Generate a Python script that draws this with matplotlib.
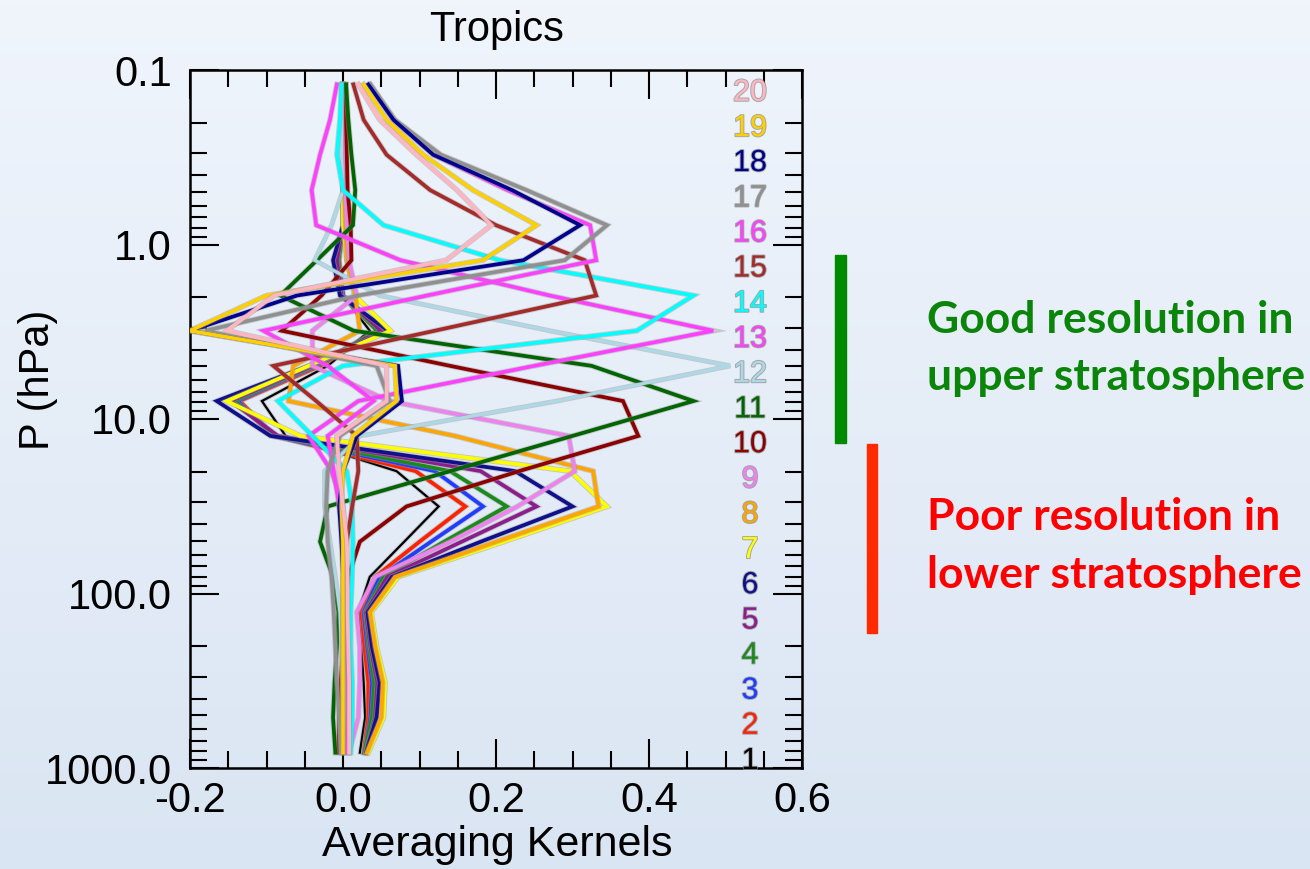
import numpy as np
import matplotlib
matplotlib.use("Agg")
import matplotlib.pyplot as plt
import matplotlib.patheffects as pe
from matplotlib.patches import Rectangle
from matplotlib.transforms import offset_copy
from matplotlib.ticker import FixedLocator, FixedFormatter, MultipleLocator, LogLocator, NullFormatter

# ---------------- data ----------------
P_LEVELS = [817, 513, 323, 203, 128, 80.3, 50.5, 31.7, 19.9, 12.5,
            7.89, 4.96, 3.12, 1.96, 1.23, 0.775, 0.488, 0.306, 0.193, 0.121]

K1 = [0.022, 0.029, 0.027, 0.024, 0.020, 0.035, 0.080, 0.125, 0.070, -0.075,
      -0.106, -0.020, 0.035, 0.000, -0.005, 0.000, 0.000, 0.000, 0.000, 0.000]
K2 = [0.027, 0.033, 0.033, 0.028, 0.024, 0.042, 0.100, 0.160, 0.095, -0.090,
      -0.135, -0.030, 0.045, 0.000, -0.005, 0.000, 0.000, 0.000, 0.000, 0.000]
K3 = [0.028, 0.036, 0.038, 0.032, 0.027, 0.048, 0.115, 0.183, 0.120, -0.092,
      -0.138, -0.035, 0.050, 0.000, -0.006, 0.000, 0.000, 0.000, 0.000, 0.000]
K4 = [0.028, 0.038, 0.041, 0.034, 0.029, 0.053, 0.132, 0.214, 0.140, -0.088,
      -0.142, -0.038, 0.045, -0.002, -0.006, 0.000, 0.000, 0.000, 0.000, 0.000]
K5 = [0.030, 0.042, 0.045, 0.036, 0.030, 0.058, 0.155, 0.253, 0.180, -0.085,
      -0.147, -0.040, 0.050, -0.002, -0.008, 0.000, 0.000, 0.000, 0.000, 0.000]
K6 = [0.030, 0.044, 0.048, 0.038, 0.032, 0.064, 0.180, 0.300, 0.225, -0.095,
      -0.165, -0.045, 0.059, -0.004, -0.013, 0.000, 0.000, 0.000, 0.000, 0.000]
K7 = [0.033, 0.053, 0.055, 0.044, 0.037, 0.072, 0.210, 0.345, 0.297, -0.056,
      -0.152, -0.045, 0.062, 0.015, 0.005, 0.000, 0.000, 0.000, 0.000, 0.000]
K8 = [0.031, 0.050, 0.052, 0.042, 0.035, 0.068, 0.200, 0.334, 0.327, 0.146,
      -0.071, -0.065, 0.022, 0.016, 0.005, 0.003, 0.002, 0.001, 0.000, 0.000]
K9 = [0.008, 0.020, 0.022, 0.022, 0.018, 0.042, 0.140, 0.228, 0.303, 0.295,
      0.060, -0.040, -0.040, 0.018, 0.008, 0.005, 0.003, 0.002, 0.001, 0.000]
K10 = [-0.006, -0.005, -0.003, 0.000, 0.003, 0.007, 0.022, 0.083, 0.230, 0.386,
       0.366, 0.140, -0.080, -0.028, 0.011, 0.010, 0.006, 0.005, 0.004, 0.004]
K11 = [-0.010, -0.013, -0.011, -0.008, -0.006, -0.013, -0.030, -0.020, 0.140, 0.300,
       0.458, 0.325, 0.014, -0.082, -0.034, 0.013, 0.016, 0.011, 0.007, 0.004]
K12 = [0.000, 0.000, -0.001, -0.002, -0.004, -0.010, -0.017, -0.024, -0.024, 0.022,
       0.280, 0.506, 0.270, 0.048, -0.037, -0.015, 0.000, -0.002, -0.002, -0.002]
K13 = [0.004, 0.006, 0.006, 0.005, 0.004, 0.004, 0.002, 0.000, -0.015, -0.045,
       0.020, 0.250, 0.484, 0.270, 0.075, -0.035, -0.041, -0.030, -0.017, -0.008]
K14 = [0.010, 0.012, 0.012, 0.010, 0.010, 0.012, 0.013, 0.012, 0.005, -0.040,
       -0.085, 0.000, 0.384, 0.458, 0.205, 0.053, 0.000, -0.008, -0.004, -0.002]
K15 = [0.000, 0.000, 0.000, 0.000, 0.000, 0.000, 0.005, 0.012, 0.020, 0.018,
       -0.035, -0.091, 0.120, 0.331, 0.316, 0.200, 0.114, 0.057, 0.027, 0.0135]
K16 = [0.005, 0.008, 0.008, 0.006, 0.005, 0.005, 0.003, -0.005, -0.012, -0.020,
       0.040, -0.020, -0.104, 0.110, 0.331, 0.323, 0.215, 0.118, 0.066, 0.035]
K17 = [-0.003, -0.005, -0.008, -0.010, -0.012, -0.015, -0.020, -0.022, -0.020, -0.004,
       0.061, 0.044, -0.180, 0.020, 0.290, 0.345, 0.240, 0.128, 0.068, 0.036]
K18 = [0.000, 0.000, 0.000, 0.000, 0.000, 0.000, -0.002, -0.005, 0.000, 0.018,
       0.077, 0.072, -0.200, -0.060, 0.236, 0.310, 0.221, 0.118, 0.066, 0.033]
K19 = [0.000, 0.000, 0.000, 0.000, 0.000, 0.000, 0.000, -0.002, 0.000, 0.013,
       0.070, 0.068, -0.200, -0.100, 0.183, 0.253, 0.170, 0.105, 0.057, 0.027]
K20 = [0.008, 0.008, 0.008, 0.007, 0.006, 0.006, 0.005, 0.000, -0.005, -0.008,
       0.057, 0.057, -0.152, -0.090, 0.135, 0.194, 0.149, 0.096, 0.048, 0.020]

KERNELS = [K1, K2, K3, K4, K5, K6, K7, K8, K9, K10,
           K11, K12, K13, K14, K15, K16, K17, K18, K19, K20]
KERNEL_LABELS = [str(i) for i in range(1, 21)]
COLORS = ["#000000", "#ff2200", "#1f3cff", "#1a8a1a", "#8c1e8c", "#10108a",
          "#ffff00", "#ffa500", "#ee82ee", "#8b0000", "#006400", "#add8e6",
          "#ff40ff", "#00ffff", "#a52a2a", "#ff40ff", "#909090", "#00008c",
          "#ffd000", "#ffb6c1"]

X_TICKS = [-0.2, 0.0, 0.2, 0.4, 0.6]
X_TICK_LABELS = ["-0.2", "0.0", "0.2", "0.4", "0.6"]
Y_TICKS = [0.1, 1.0, 10.0, 100.0, 1000.0]
Y_TICK_LABELS = ["0.1", "1.0", "10.0", "100.0", "1000.0"]

# ---------------- figure ----------------
W, H = 1310, 869
fig = plt.figure(figsize=(W / 100, H / 100), dpi=100)

# background gradient
bg = fig.add_axes([0, 0, 1, 1], zorder=-10)
top = np.array([0xF0, 0xF5, 0xFC]) / 255.0
bot = np.array([0xDA, 0xE5, 0xF3]) / 255.0
t = np.linspace(0, 1, 256)[:, None]
grad = (top[None, :] * (1 - t) + bot[None, :] * t)[:, None, :]
bg.imshow(grad, aspect="auto", extent=[0, 1, 0, 1])
bg.set_axis_off()

L, R, T, B = 190, 802, 70, 768
ax = fig.add_axes([L / W, 1 - B / H, (R - L) / W, (B - T) / H])
ax.set_facecolor("none")
ax.set_yscale("log")
ax.set_xlim(-0.2, 0.6)
ax.set_ylim(1000, 0.1)

FONT = "Liberation Sans"
for i, (k, c) in enumerate(zip(KERNELS, COLORS)):
    lw = 2.7
    if i == 0:
        lw = 1.6
    elif i == 11:
        lw = 2.3
    ax.plot(k, P_LEVELS, color=c, lw=lw, solid_joinstyle="miter",
            path_effects=[pe.Stroke(linewidth=lw + 1.3, foreground="#9a9a9a", alpha=0.45), pe.Normal()],
            zorder=2 + i)

# kernel number labels
lab_tr = offset_copy(ax.transData, fig=fig, x=0, y=-6, units="points")
for lab, p, c in zip(KERNEL_LABELS, P_LEVELS, COLORS):
    ax.text(0.532, p, lab, transform=lab_tr, color=c, fontsize=22, family=FONT,
            ha="center", va="center", zorder=30,
            path_effects=[pe.Stroke(linewidth=1.4, foreground="#8a8a8a", alpha=0.7), pe.Normal()])

# ticks
ax.xaxis.set_major_locator(FixedLocator(X_TICKS))
ax.xaxis.set_major_formatter(FixedFormatter(X_TICK_LABELS))
ax.xaxis.set_minor_locator(MultipleLocator(0.05))
ax.yaxis.set_major_locator(FixedLocator(Y_TICKS))
ax.yaxis.set_major_formatter(FixedFormatter(Y_TICK_LABELS))
ax.yaxis.set_minor_locator(LogLocator(base=10, subs=np.arange(2, 10)))
ax.yaxis.set_minor_formatter(NullFormatter())
ax.tick_params(which="both", direction="in", top=True, right=True, width=1.5, color="black")
ax.tick_params(which="major", length=21)
ax.tick_params(which="minor", length=12)
ax.tick_params(axis="x", which="major", pad=9, labelsize=30)
ax.tick_params(axis="y", which="major", pad=13, labelsize=30)
for lbl in ax.get_xticklabels() + ax.get_yticklabels():
    lbl.set_family(FONT)
for s in ax.spines.values():
    s.set_linewidth(1.8)

# titles / axis labels
fig.text(497 / W, 1 - 30 / H, "Tropics", family=FONT, fontsize=30, ha="center", va="center")
fig.text(497 / W, 1 - 845 / H, "Averaging Kernels", family=FONT, fontsize=31, ha="center", va="center")
fig.text(38 / W, 1 - 380 / H, "P (hPa)", family=FONT, fontsize=30, ha="center", va="center", rotation=90)

# right-hand annotations
fig.patches.append(Rectangle((835 / W, 1 - 443 / H), 11 / W, (443 - 255) / H,
                             transform=fig.transFigure, color="#008a00", zorder=5))
fig.patches.append(Rectangle((867 / W, 1 - 633 / H), 10 / W, (633 - 444) / H,
                             transform=fig.transFigure, color="#ff2a00", zorder=5))
TFONT = "Lato"
for txt, yb, col in [("Good resolution in", 333, "#0a850a"),
                     ("upper stratosphere", 390, "#0a850a"),
                     ("Poor resolution in", 530, "#ff0000"),
                     ("lower stratosphere", 588, "#ff0000")]:
    fig.text(927 / W, 1 - yb / H, txt, family=TFONT, fontweight="bold", fontsize=32,
             color=col, ha="left", va="baseline")

fig.savefig("out.png", dpi=100)
